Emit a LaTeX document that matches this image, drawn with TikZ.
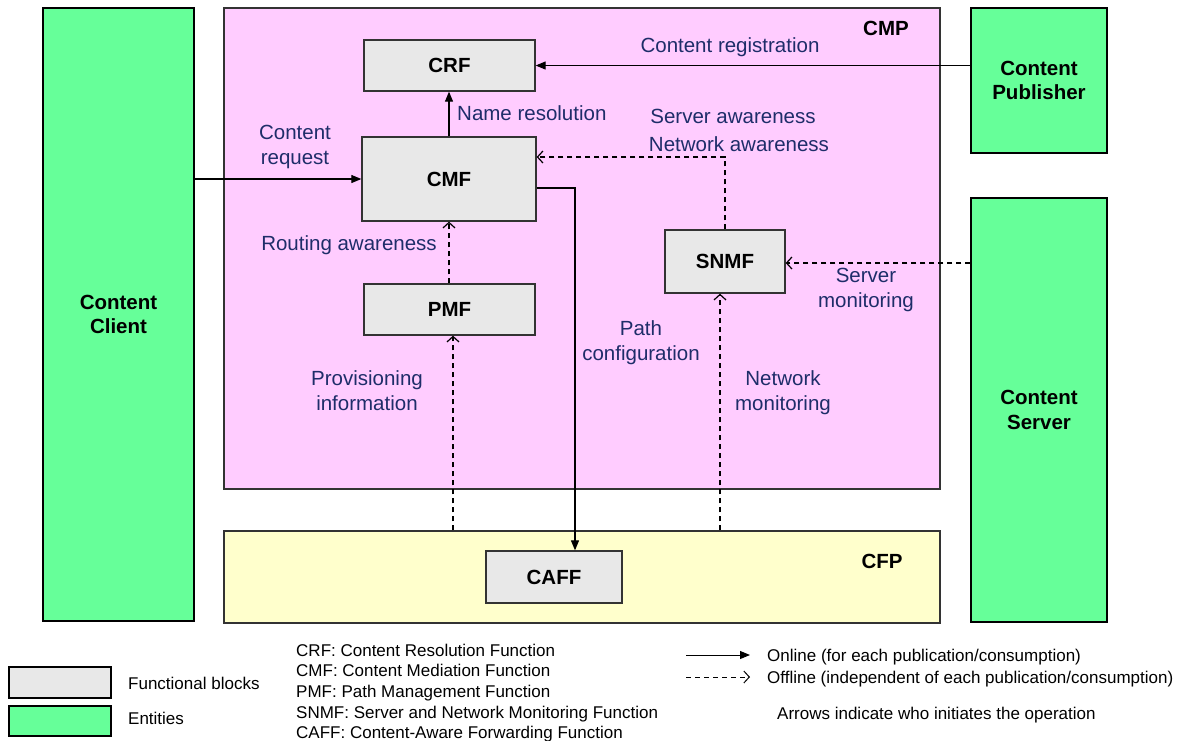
\documentclass[tikz,border=0pt]{standalone}
\usepackage{fontspec}
\setmainfont{Liberation Sans}
\usetikzlibrary{arrows.meta,calc}

\definecolor{cmppink}{RGB}{255,204,255}
\definecolor{cfpyellow}{RGB}{255,255,204}
\definecolor{entgreen}{RGB}{102,255,153}
\definecolor{blockgray}{RGB}{232,232,232}
\definecolor{edgegray}{RGB}{51,51,51}
\definecolor{labelnavy}{RGB}{30,45,105}

\tikzset{
  plane/.style={draw=edgegray, line width=1.3pt, inner sep=0pt},
  fblock/.style={draw=edgegray, line width=1.3pt, fill=blockgray, inner sep=0pt,
    font=\fontsize{20.5}{24}\selectfont\bfseries},
  entity/.style={draw=black, line width=1.3pt, fill=entgreen, inner sep=0pt,
    align=center, font=\fontsize{20.5}{24.5}\selectfont\bfseries},
  lbl/.style={text=labelnavy, inner sep=0pt, align=center,
    font=\fontsize{20.5}{25}\selectfont},
  legtext/.style={inner sep=0pt, anchor=base west, font=\fontsize{17}{20}\selectfont},
  online/.style={line width=1.1pt, -{Triangle[length=10pt,width=8pt]}},
  offline/.style={line width=1.2pt, dash pattern=on 5pt off 4pt,
    -{Straight Barb[length=5.5pt,width=12pt]}}
}

\begin{document}
\begin{tikzpicture}[x=1pt,y=-1pt]
\useasboundingbox[fill=white] (0,0) rectangle (1187,740);

% planes
\node[plane, fill=cmppink, minimum width=716pt, minimum height=481pt] (cmp) at (582,248.5) {};
\node[plane, fill=cfpyellow, minimum width=716pt, minimum height=92pt] (cfp) at (582,577) {};
\node[font=\fontsize{20.5}{24}\selectfont\bfseries, inner sep=0pt] (cmplbl) at (886,28) {CMP};
\node[font=\fontsize{20.5}{24}\selectfont\bfseries, inner sep=0pt] (cfplbl) at (882,561) {CFP};

% entities
\node[entity, minimum width=151pt, minimum height=613pt] (client) at (118.5,314.5) {Content\\Client};
\node[entity, minimum width=136pt, minimum height=145pt] (pub) at (1039,80.5) {Content\\Publisher};
\node[entity, minimum width=136pt, minimum height=424pt] (server) at (1039,410) {Content\\Server};

% functional blocks
\node[fblock, minimum width=171pt, minimum height=51pt] (crf) at (449.5,65.5) {CRF};
\node[fblock, minimum width=174pt, minimum height=84pt] (cmf) at (449,179) {CMF};
\node[fblock, minimum width=171pt, minimum height=51pt] (pmf) at (449.5,309.5) {PMF};
\node[fblock, minimum width=120pt, minimum height=63pt] (snmf) at (725,261.5) {SNMF};
\node[fblock, minimum width=136pt, minimum height=52pt] (caff) at (554,577) {CAFF};

% online interactions
\draw[online] (pub.west |- crf.east) -- (crf.east);
\draw[online] (cmf.north) -- (cmf.north |- crf.south);
\draw[online] (cmf.west -| client.east) -- (cmf.west);
\draw[online] ($(cmf.east)+(0,9)$) -| ([xshift=21pt]caff.north);

% offline interactions
\draw[offline] (snmf.north) |- ([yshift=22pt]cmf.east);
\draw[offline] (cmf.south |- pmf.north) -- (cmf.south);
\draw[offline] ([xshift=3.5pt]pmf.south |- cfp.north) -- ([xshift=3.5pt]pmf.south);
\draw[offline] ([xshift=-5pt]snmf.south |- cfp.north) -- ([xshift=-5pt]snmf.south);
\draw[offline] ([yshift=-1.5pt]server.west |- snmf.east) -- ([yshift=-1.5pt]snmf.east);

% interaction labels
\node[lbl] (lreg) at (730,47) {Content registration};
\node[lbl, anchor=west] (lname) at (457,113) {Name resolution};
\node[lbl] (lsrv) at (733,116) {Server awareness};
\node[lbl] (lnet) at (739,144) {Network awareness};
\node[lbl] (lreq) at (295,146.5) {Content\\request};
\node[lbl] (lrout) at (349,245) {Routing awareness};
\node[lbl] (lpath) at (641,343) {Path\\configuration};
\node[lbl] (lsmon) at (866,290) {Server\\monitoring};
\node[lbl] (lprov) at (367,391) {Provisioning\\information};
\node[lbl] (lnmon) at (783,393) {Network\\monitoring};

% legend: block types
\node[draw=black, line width=1.1pt, fill=blockgray, minimum width=102pt, minimum height=31pt, inner sep=0pt] (legblk) at (60,682.5) {};
\node[draw=black, line width=1.1pt, fill=entgreen, minimum width=102pt, minimum height=30pt, inner sep=0pt] (legent) at (60,721) {};
\node[legtext] (tblk) at (128,689) {Functional blocks};
\node[legtext] (tent) at (128,724) {Entities};

% legend: abbreviations
\node[legtext] (a1) at (296,656) {CRF: Content Resolution Function};
\node[legtext] (a2) at (296,676.7) {CMF: Content Mediation Function};
\node[legtext] (a3) at (296,697.4) {PMF: Path Management Function};
\node[legtext] (a4) at (296,718) {SNMF: Server and Network Monitoring Function};
\node[legtext] (a5) at (296,738.7) {CAFF: Content-Aware Forwarding Function};

% legend: arrow kinds
\coordinate (on0) at (686,655);
\coordinate (on1) at (750,655);
\coordinate (off0) at (686,677);
\coordinate (off1) at (750,677);
\draw[online, line width=1pt] (on0) -- (on1);
\draw[offline, line width=1pt] (off0) -- (off1);
\node[legtext] (ton) at (767,661) {Online (for each publication/consumption)};
\node[legtext] (toff) at (767,683) {Offline (independent of each publication/consumption)};
\node[legtext] (tinit) at (777,719) {Arrows indicate who initiates the operation};
\end{tikzpicture}
\end{document}
